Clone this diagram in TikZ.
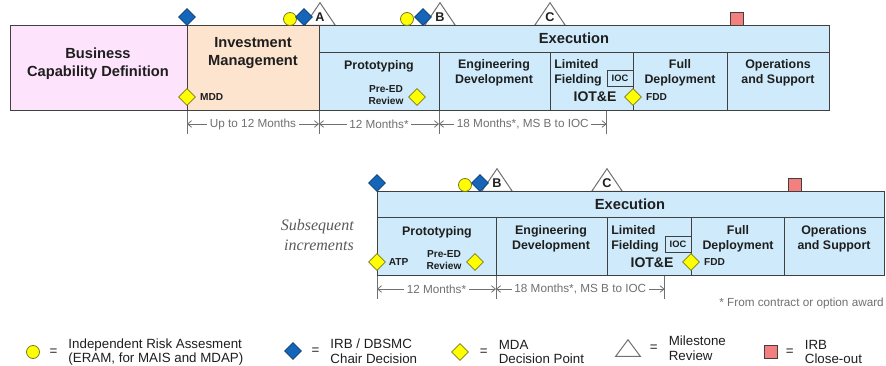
\documentclass[tikz,border=0pt]{standalone}
\usepackage{fontspec}
\setmainfont{Liberation Sans}
\newfontfamily\incfont{Liberation Serif}
\usepackage{xcolor}
\usepackage{tikz}
\usetikzlibrary{positioning,arrows.meta,calc,shapes.geometric}
\definecolor{ACQpink}{HTML}{FDE4FC}
\definecolor{ACQpeach}{HTML}{FCE4CF}
\definecolor{ACQsky}{HTML}{CFEBFB}
\definecolor{ACQline}{HTML}{404040}
\definecolor{ACQtext}{HTML}{1E1E1E}
\definecolor{ACQgrey}{HTML}{707070}
\definecolor{ACQslate}{HTML}{5A5A5A}
\definecolor{ACQblue}{HTML}{1565B8}
\definecolor{ACQblueDark}{HTML}{0D3F75}
\definecolor{ACQyellow}{HTML}{FFFF00}
\definecolor{ACQolive}{HTML}{7A7A20}
\definecolor{ACQred}{HTML}{F47F7F}
\newlength{\px}
\setlength{\px}{0.75pt}
\tikzset{
  phbox/.style={draw=ACQline, line width=0.75pt, anchor=north west, inner sep=0pt, minimum height=58*\px},
  bigtxt/.style={font=\bfseries\fontsize{11}{13.5}\selectfont, text=ACQtext, align=center, inner sep=0pt},
  subtxt/.style={font=\bfseries\fontsize{9.3}{11.3}\selectfont, text=ACQtext, align=center, inner sep=0pt},
  smalltxt/.style={font=\bfseries\fontsize{7.6}{8.4}\selectfont, text=ACQtext, align=center, inner sep=0pt},
  iottxt/.style={font=\bfseries\fontsize{10.5}{12}\selectfont, text=ACQtext, inner sep=0pt},
  ioctag/.style={draw=ACQline, line width=0.6pt, fill=ACQsky, font=\bfseries\fontsize{7}{8}\selectfont, text=ACQtext, minimum width=26*\px, minimum height=16*\px, inner sep=0pt},
  dimtick/.style={draw=ACQgrey, line width=0.6pt},
  dimarr/.style={{Straight Barb[length=3pt,width=5pt]}-{Straight Barb[length=3pt,width=5pt]}, draw=ACQgrey, line width=0.6pt},
  dimlbl/.style={fill=white, text=ACQgrey, font=\fontsize{8.8}{10}\selectfont, inner sep=2pt},
  irbmark/.style={diamond, fill=ACQblue, draw=ACQblueDark, line width=0.6pt, minimum width=17*\px, minimum height=17*\px, inner sep=0pt},
  mdamark/.style={diamond, fill=ACQyellow, draw=ACQolive, line width=0.6pt, minimum width=17*\px, minimum height=17*\px, inner sep=0pt},
  iramark/.style={circle, fill=ACQyellow, draw=ACQolive, line width=0.6pt, minimum size=13*\px, inner sep=0pt},
  closemark/.style={rectangle, fill=ACQred, draw=ACQline, line width=0.6pt, minimum size=12.5*\px, inner sep=0pt},
  msbox/.style={minimum width=30*\px, minimum height=22*\px, inner sep=0pt},
  msshape/.style={fill=white, draw=ACQgrey, line width=0.75pt},
  mslabel/.style={font=\bfseries\fontsize{9.5}{10}\selectfont, text=ACQtext, inner sep=0pt},
  legtxt/.style={font=\fontsize{10}{11}\selectfont, align=left, inner sep=0pt, text=ACQtext},
  eqsign/.style={font=\fontsize{10}{11}\selectfont, inner sep=0pt, text=ACQtext}
}

\begin{document}
\begin{tikzpicture}[x=0.75pt, y=-0.75pt]
\useasboundingbox (0,0) rectangle (886,366);

% milestone reviews
\foreach \nm/\x/\y/\l in {msA/320/14/A, msB/440/14/B, msC/550/14/C, msBb/497/180/B, msCb/607/180/C} {
  \node[msbox] (\nm) at (\x,\y) {};
  \filldraw[msshape] (\nm.south west) -- (\nm.north) -- (\nm.south east) -- cycle;
  \node[mslabel] (\nm-l) at ([yshift=6pt]\nm.south) {\l};
}

% first increment
\node[phbox, fill=ACQpink, minimum width=177*\px, minimum height=85*\px] (bcd) at (10,25) {};
\node[phbox, fill=ACQpeach, minimum width=132*\px, minimum height=85*\px] (invm) at (187,25) {};
\node[phbox, fill=ACQsky, minimum width=510*\px, minimum height=27*\px] (exec) at (319,25) {};
\node[phbox, fill=ACQsky, minimum width=120*\px] (proto) at (319,52) {};
\node[phbox, fill=ACQsky, minimum width=111*\px] (eng) at (439,52) {};
\node[phbox, fill=ACQsky, minimum width=83*\px] (lfld) at (550,52) {};
\node[phbox, fill=ACQsky, minimum width=94*\px] (fdep) at (633,52) {};
\node[phbox, fill=ACQsky, minimum width=102*\px] (ops) at (727,52) {};

\node[bigtxt] (bcdT) at (98,64) {Business\\Capability Definition};
\node[bigtxt] (invmT) at (253,53) {Investment\\Management};
\node[bigtxt] (execT) at (574,38) {Execution};
\node[subtxt] (protoT) at (379,66) {Prototyping};
\node[subtxt] (engT) at (494,73) {Engineering\\Development};
\node[subtxt, anchor=west, align=left] (lfldT) at (554,73) {Limited\\Fielding};
\node[subtxt] (fdepT) at (680,73) {Full\\Deployment};
\node[subtxt] (opsT) at (778,73) {Operations\\and Support};
\node[ioctag] (ioc) at (620,78) {IOC};
\node[iottxt] (iot) at (595,97) {IOT\&E};
\node[smalltxt] (preedT) at (386,95) {Pre-ED\\Review};

\node[irbmark] (irb1) at (187,17) {};
\node[iramark] (ira1) at (290,19) {};
\node[irbmark] (irb2) at (304,17) {};
\node[iramark] (ira2) at (407,19) {};
\node[irbmark] (irb3) at (423,17) {};
\node[closemark] (close1) at (737,19) {};
\node[mdamark] (mdd) at (187,97) {};
\node[mdamark] (preed) at (417,97) {};
\node[mdamark] (fdd) at (633,97) {};
\node[smalltxt, right=3pt of mdd] (mddT) {MDD};
\node[smalltxt, right=3pt of fdd] (fddT) {FDD};

% timing, first increment
\coordinate (row1) at (0,124);
\coordinate (iocx) at (ioc.west |- lfld.south);
\foreach \p in {invm.south west, proto.south west, eng.south west, iocx}
  \draw[dimtick] (\p) -- ++(0,23);
\draw[dimarr] (invm.south west |- row1) -- node[dimlbl] (d1) {Up to 12 Months} (proto.south west |- row1);
\draw[dimarr] (proto.south west |- row1) -- node[dimlbl] (d2) {12 Months*} (eng.south west |- row1);
\draw[dimarr] (eng.south west |- row1) -- node[dimlbl] (d3) {18 Months*, MS B to IOC} (iocx |- row1);

% subsequent increments
\node[anchor=east, align=right, font=\incfont\itshape\fontsize{12}{14.3}\selectfont, text=ACQslate, inner sep=0pt] (subinc) at (354,235) {Subsequent\\increments};
\node[phbox, fill=ACQsky, minimum width=507*\px, minimum height=26*\px] (exec2) at (377,191) {};
\node[phbox, fill=ACQsky, minimum width=119*\px] (proto2) at (377,217) {};
\node[phbox, fill=ACQsky, minimum width=111*\px] (eng2) at (496,217) {};
\node[phbox, fill=ACQsky, minimum width=84*\px] (lfld2) at (607,217) {};
\node[phbox, fill=ACQsky, minimum width=93*\px] (fdep2) at (691,217) {};
\node[phbox, fill=ACQsky, minimum width=100*\px] (ops2) at (784,217) {};

\node[bigtxt] (execT2) at (630,204) {Execution};
\node[subtxt] (protoT2) at (437,232) {Prototyping};
\node[subtxt] (engT2) at (551,239) {Engineering\\Development};
\node[subtxt, anchor=west, align=left] (lfldT2) at (611,239) {Limited\\Fielding};
\node[subtxt] (fdepT2) at (738,239) {Full\\Deployment};
\node[subtxt] (opsT2) at (834,239) {Operations\\and Support};
\node[ioctag] (ioc2) at (678,244) {IOC};
\node[iottxt] (iot2) at (652,263) {IOT\&E};
\node[smalltxt] (preedT2) at (444,260) {Pre-ED\\Review};

\node[irbmark] (irb4) at (377,183) {};
\node[iramark] (ira3) at (465,185) {};
\node[irbmark] (irb5) at (480,183) {};
\node[closemark] (close2) at (795,185) {};
\node[mdamark] (atp) at (377,262) {};
\node[mdamark] (preed2) at (475,262) {};
\node[mdamark] (fdd2) at (691,262) {};
\node[smalltxt, right=2pt of atp] (atpT) {ATP};
\node[smalltxt, right=3pt of fdd2] (fddT2) {FDD};

% timing, subsequent increments
\coordinate (row2) at (0,289);
\coordinate (iocx2) at (ioc2.west |- lfld2.south);
\foreach \p in {proto2.south west, eng2.south west, iocx2}
  \draw[dimtick] (\p) -- ++(0,23);
\draw[dimarr] (proto2.south west |- row2) -- node[dimlbl] (d4) {12 Months*} (eng2.south west |- row2);
\draw[dimarr] (eng2.south west |- row2) -- node[dimlbl] (d5) {18 Months*, MS B to IOC} (iocx2 |- row2);
\node[dimlbl, anchor=east, inner sep=0pt] (note) at (884,303) {* From contract or option award};

% legend
\node[iramark] (lg1) at (33,352) {};
\node[eqsign, right=7pt of lg1] (lg1e) {=};
\node[legtxt, right=8pt of lg1e] (lg1t) {Independent Risk Assesment\\(ERAM, for MAIS and MDAP)};
\node[irbmark] (lg2) at (293,351) {};
\node[eqsign, right=7pt of lg2] (lg2e) {=};
\node[legtxt, right=8pt of lg2e] (lg2t) {IRB / DBSMC\\Chair Decision};
\node[mdamark] (lg3) at (460,352) {};
\node[eqsign, right=8pt of lg3] (lg3e) {=};
\node[legtxt, right=8pt of lg3e] (lg3t) {MDA\\Decision Point};
\node[msbox, minimum width=24*\px, minimum height=16*\px] (lg4) at (628,348) {};
\filldraw[msshape] (lg4.south west) -- (lg4.north) -- (lg4.south east) -- cycle;
\node[eqsign, right=7pt of lg4] (lg4e) {=};
\node[legtxt, right=8pt of lg4e] (lg4t) {Milestone\\Review};
\node[closemark] (lg5) at (771,352) {};
\node[eqsign, right=6pt of lg5] (lg5e) {=};
\node[legtxt, right=8pt of lg5e] (lg5t) {IRB\\Close-out};
\end{tikzpicture}
\end{document}
